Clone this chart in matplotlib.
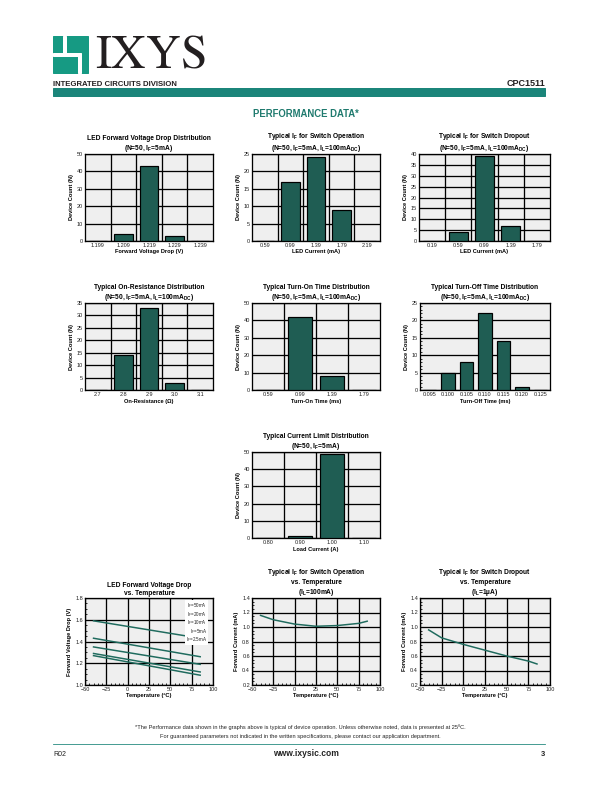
import matplotlib
matplotlib.use("Agg")
import matplotlib.pyplot as plt
import numpy as np
from matplotlib.patches import Rectangle
from matplotlib.ticker import MultipleLocator

plt.rcParams["font.family"] = ["Liberation Sans", "DejaVu Sans"]
plt.rcParams["mathtext.fontset"] = "custom"
plt.rcParams["mathtext.rm"] = "Liberation Sans"
plt.rcParams["mathtext.bf"] = "Liberation Sans:bold"
plt.rcParams["mathtext.it"] = "Liberation Sans:italic"
plt.rcParams["mathtext.default"] = "bf"

W, H = 612, 792
BAR = "#1f5d53"
LINE = "#1f6b5e"
TEAL = "#1b857a"
BG = "#efefef"

# ---- histogram data ----
vf_bins = ["1.199", "1.209", "1.219", "1.229", "1.239"]
vf_counts = [0, 4, 43, 3, 0]

ifon_bins = ["0.59", "0.99", "1.39", "1.79", "2.19"]
ifon_counts = [0, 17, 24, 9, 0]

ifoff_bins = ["0.19", "0.59", "0.99", "1.39", "1.79"]
ifoff_counts = [0, 4, 39, 7, 0]

ron_bins = ["2.7", "2.8", "2.9", "3.0", "3.1"]
ron_counts = [0, 14, 33, 3, 0]

ton_bins = ["0.59", "0.99", "1.39", "1.79"]
ton_counts = [0, 42, 8, 0]

toff_bins = ["0.095", "0.100", "0.105", "0.110", "0.115", "0.120", "0.125"]
toff_counts = [0, 5, 8, 22, 14, 1, 0]

ilim_bins = ["0.80", "0.90", "1.00", "1.10"]
ilim_counts = [0, 1, 49, 0]

# ---- temperature curves ----
vf_temp = [-40, 85]
vf_50ma = [1.59, 1.43]
vf_20ma = [1.43, 1.26]
vf_10ma = [1.35, 1.19]
vf_5ma = [1.29, 1.12]
vf_2p5ma = [1.27, 1.09]

ifop_temp = [-40, -25, 0, 25, 50, 75, 85]
ifop_val = [1.16, 1.10, 1.04, 1.01, 1.02, 1.05, 1.08]

ifdrop_temp = [-40, -25, 0, 25, 50, 75, 85]
ifdrop_val = [0.96, 0.85, 0.76, 0.68, 0.60, 0.53, 0.49]

SUB = "(N=50, I$_F$=5mA, I$_L$=100mA$_{DC}$)"


def rect(x0, y0, x1, y1):
    return [x0 / W, 1 - y1 / H, (x1 - x0) / W, (y1 - y0) / H]


def style_axes(ax):
    ax.set_facecolor(BG)
    for s in ax.spines.values():
        s.set_linewidth(1.3)
        s.set_color("black")
    ax.tick_params(labelsize=5.5, pad=2, length=0, colors="#222222")
    ax.set_axisbelow(True)


def bar_panel(box, cats, counts, ymax, ystep, title, xlabel, vgrid=True, yminor=None):
    ax = fig.add_axes(rect(*box))
    style_axes(ax)
    x = np.arange(len(cats))
    ax.bar(x, counts, width=0.72, color=BAR, edgecolor="black", linewidth=1.2, zorder=3)
    ax.set_xlim(-0.5, len(cats) - 0.5)
    ax.set_ylim(0, ymax)
    ax.set_xticks(x)
    ax.set_xticklabels(cats)
    ax.set_yticks(np.arange(0, ymax + 1, ystep))
    ax.yaxis.grid(True, color="black", linewidth=1.3)
    if vgrid:
        for b in x[:-1] + 0.5:
            ax.axvline(b, color="black", linewidth=1.3, zorder=1)
    if yminor:
        ax.yaxis.set_minor_locator(MultipleLocator(yminor))
        ax.tick_params(axis="y", which="minor", direction="in", length=2, width=0.8)
    ax.set_title(title, fontsize=6.6, fontweight="bold", pad=3, linespacing=1.2)
    ax.set_xlabel(xlabel, fontsize=5.6, fontweight="bold", labelpad=1.5)
    ax.set_ylabel("Device Count (N)", fontsize=5.6, fontweight="bold", labelpad=3)
    return ax


def temp_panel(box, ylim, title, ylabel):
    ax = fig.add_axes(rect(*box))
    style_axes(ax)
    ax.set_xlim(-50, 100)
    ax.set_ylim(*ylim)
    ax.set_xticks(np.arange(-50, 101, 25))
    ax.set_yticks(np.arange(ylim[0], ylim[1] + 0.001, 0.2))
    ax.yaxis.set_major_formatter(matplotlib.ticker.FormatStrFormatter("%.1f"))
    ax.grid(True, color="black", linewidth=1.3)
    ax.xaxis.set_minor_locator(MultipleLocator(5))
    ax.yaxis.set_minor_locator(MultipleLocator(0.05))
    ax.tick_params(which="minor", direction="in", length=2, width=0.8)
    ax.set_title(title, fontsize=6.6, fontweight="bold", pad=3, linespacing=1.2)
    ax.set_xlabel("Temperature (ºC)", fontsize=5.6, fontweight="bold", labelpad=1.5)
    ax.set_ylabel(ylabel, fontsize=5.6, fontweight="bold", labelpad=3)
    return ax


fig = plt.figure(figsize=(W / 72, H / 72), dpi=72)

# ---- header ----
hdr = fig.add_axes([0, 0, 1, 1])
hdr.set_xlim(0, W)
hdr.set_ylim(H, 0)
hdr.axis("off")

# logo
hdr.add_patch(Rectangle((53, 36), 35, 37, color="#169a83"))
hdr.add_patch(Rectangle((63, 36), 2.5, 17, color="white"))
hdr.add_patch(Rectangle((53, 53), 27, 2.5, color="white"))
hdr.add_patch(Rectangle((78, 53), 2.5, 20, color="white"))

# bottom-anchored so its box stays above the division line
hdr.text(95, 77.5, r"$\mathrm{IXYS}$", fontsize=48, math_fontfamily="stix",
         color="#231f20", va="bottom", ha="left")
hdr.text(53, 86, "INTEGRATED CIRCUITS DIVISION", fontsize=7.7, fontweight="bold",
         color="#231f20", va="baseline", ha="left")

hdr.text(545, 86, "CPC1511", fontsize=9, fontweight="bold", color="#231f20",
         va="baseline", ha="right")
hdr.add_patch(Rectangle((53, 88), 492, 8, color=TEAL))
hdr.text(306, 117, "PERFORMANCE DATA*", fontsize=9.5, fontweight="bold", color="#1f7a6e",
         va="baseline", ha="center")

# footer
hdr.text(300, 729, "*The Performance data shown in the graphs above is typical of device operation. "
         "Unless otherwise noted, data is presented at 25ºC.", fontsize=5.6, ha="center",
         va="baseline", color="#222222")
hdr.text(300, 738, "For guaranteed parameters not indicated in the written specifications, "
         "please contact our application department.", fontsize=5.6, ha="center",
         va="baseline", color="#222222")
hdr.plot([53, 545], [744, 744], color=TEAL, linewidth=0.8)
hdr.text(53, 756, "R02", fontsize=7, ha="left", va="baseline", color="#222222")
hdr.text(306, 756, "www.ixysic.com", fontsize=8.5, fontweight="bold", ha="center",
         va="baseline", color="#222222")
hdr.text(545, 756, "3", fontsize=7.5, fontweight="bold", ha="right", va="baseline",
         color="#222222")

# ---- histograms ----
bar_panel((85, 154, 213, 241), vf_bins, vf_counts, 50, 10,
          "LED Forward Voltage Drop Distribution\n(N=50, I$_F$=5mA)",
          "Forward Voltage Drop (V)")
bar_panel((252, 154, 380, 241), ifon_bins, ifon_counts, 25, 5,
          "Typical I$_F$ for Switch Operation\n" + SUB, "LED Current (mA)")
bar_panel((419, 154, 550, 241), ifoff_bins, ifoff_counts, 40, 5,
          "Typical I$_F$ for Switch Dropout\n" + SUB, "LED Current (mA)")

bar_panel((85, 303, 213, 390), ron_bins, ron_counts, 35, 5,
          "Typical On-Resistance Distribution\n" + SUB, "On-Resistance (Ω)")
bar_panel((252, 303, 380, 390), ton_bins, ton_counts, 50, 10,
          "Typical Turn-On Time Distribution\n" + SUB, "Turn-On Time (ms)")
bar_panel((420, 303, 550, 390), toff_bins, toff_counts, 25, 5,
          "Typical Turn-Off Time Distribution\n" + SUB, "Turn-Off Time (ms)",
          vgrid=False, yminor=1)

bar_panel((252, 452, 380, 538), ilim_bins, ilim_counts, 50, 10,
          "Typical Current Limit Distribution\n(N=50, I$_F$=5mA)", "Load Current (A)")

# ---- temperature plots ----
ax = temp_panel((85, 598, 213, 685), (1.0, 1.8),
                "LED Forward Voltage Drop\nvs. Temperature", "Forward Voltage Drop (V)")
for series in [vf_50ma, vf_20ma, vf_10ma, vf_5ma, vf_2p5ma]:
    ax.plot(vf_temp, series, color=LINE, linewidth=1.5, zorder=3)
ax.text(0.955, 0.965,
        "I$_\\mathrm{F}$=50mA\nI$_\\mathrm{F}$=20mA\nI$_\\mathrm{F}$=10mA\n"
        "I$_\\mathrm{F}$=5mA\nI$_\\mathrm{F}$=2.5mA",
        transform=ax.transAxes, fontsize=4.5, ha="right", va="top", linespacing=0.95,
        color="#222222", zorder=4,
        bbox=dict(facecolor="white", edgecolor="none", pad=1.0))

ax = temp_panel((252, 598, 380, 685), (0.2, 1.4),
                "Typical I$_F$ for Switch Operation\nvs. Temperature\n(I$_L$=100mA)",
                "Forward Current (mA)")
ax.plot(ifop_temp, ifop_val, color=LINE, linewidth=1.5, zorder=3)

ax = temp_panel((420, 598, 550, 685), (0.2, 1.4),
                "Typical I$_F$ for Switch Dropout\nvs. Temperature\n(I$_L$=1µA)",
                "Forward Current (mA)")
ax.plot(ifdrop_temp, ifdrop_val, color=LINE, linewidth=1.5, zorder=3)

fig.savefig("out.png", dpi=72)
